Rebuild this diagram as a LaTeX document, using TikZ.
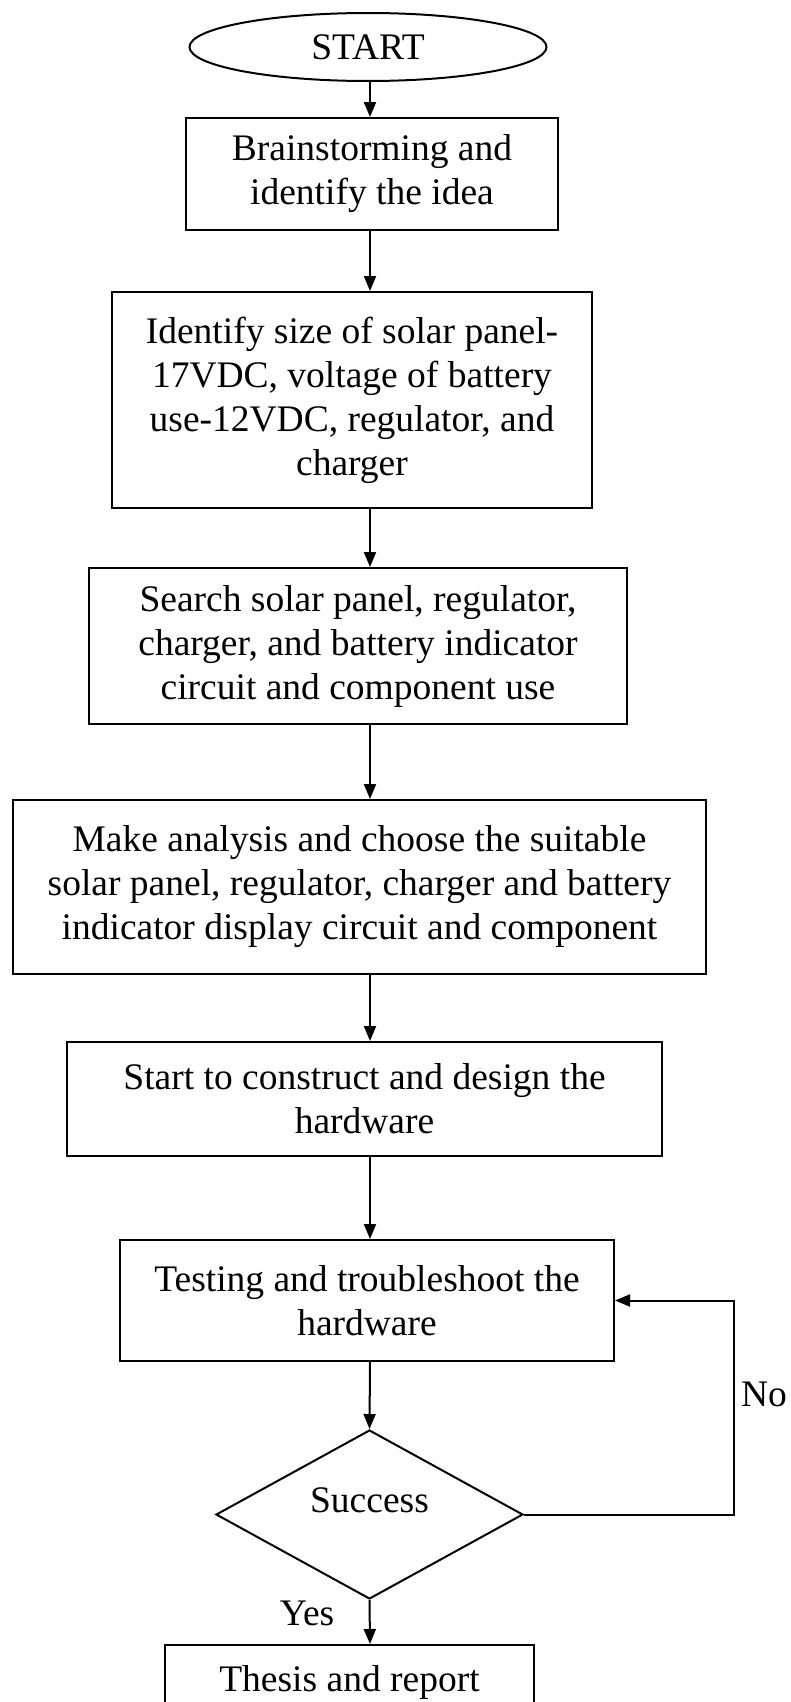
\documentclass[tikz,border=0pt]{standalone}
\usepackage{amsmath}
\usepackage{xcolor}
\usepackage{fontspec}
\setmainfont{Liberation Serif}
\usepackage{tikz}
\usetikzlibrary{shapes.geometric,arrows.meta}

\begin{document}
\begin{tikzpicture}[x=1pt,y=-1pt,line width=2pt,
        font=\fontsize{37.5}{44}\selectfont,
        >={Triangle[length=15pt,width=12pt]},
        blk/.style={draw, rectangle, align=center, inner sep=0pt},
        term/.style={draw, ellipse, inner sep=0pt, minimum width=357pt, minimum height=68pt},
        dec/.style={draw, diamond, aspect=1.8, inner sep=0pt, text depth=29pt,
            minimum width=307pt, minimum height=169pt}]
    \useasboundingbox (0,0) rectangle (790,1702);
    \clip (0,0) rectangle (790,1702);
    \coordinate (ax) at (370,0);

    \node [term] (start) at (368,47) {START};
    \node [blk, minimum width=372pt, minimum height=112pt] (brain) at (372,174)
        {Brainstorming and\\identify the idea};
    \node [blk, minimum width=480pt, minimum height=216pt] (ident) at (352,400)
        {Identify size of solar panel-\\17VDC, voltage of battery\\use-12VDC, regulator, and\\charger};
    \node [blk, minimum width=538pt, minimum height=156pt] (search) at (358,646)
        {Search solar panel, regulator,\\charger, and battery indicator\\circuit and component use};
    \node [blk, minimum width=693pt, minimum height=174pt] (analys) at (359.5,887)
        {Make analysis and choose the suitable\\solar panel, regulator, charger and battery\\indicator display circuit and component};
    \node [blk, minimum width=595pt, minimum height=114pt] (build) at (364.5,1099)
        {Start to construct and design the\\hardware};
    \node [blk, minimum width=494pt, minimum height=121pt] (test) at (367,1300.5)
        {Testing and troubleshoot the\\hardware};
    \node [dec] (ok) at (369.5,1514.5) {Success};
    \node [blk, anchor=north, minimum width=369pt, minimum height=74pt] (thesis) at (349.5,1644)
        {Thesis and report};

    % main line
    \draw [->] (start.south -| ax) -- (brain.north -| ax);
    \draw [->] (brain.south -| ax) -- (ident.north -| ax);
    \draw [->] (ident.south -| ax) -- (search.north -| ax);
    \draw [->] (search.south -| ax) -- (analys.north -| ax);
    \draw [->] (analys.south -| ax) -- (build.north -| ax);
    \draw [->] (build.south -| ax) -- (test.north -| ax);
    \draw [->] (test.south -| ax) -- (ok.north);
    \draw [->] (ok.south) -- node [left=31pt, pos=0.3]{Yes} (thesis.north -| ax);

    % back to testing
    \draw [->] (ok.east) -- ++(210,0) |- node [right, inner sep=6pt, pos=0.28]{No} (test.east);
\end{tikzpicture}
\end{document}
